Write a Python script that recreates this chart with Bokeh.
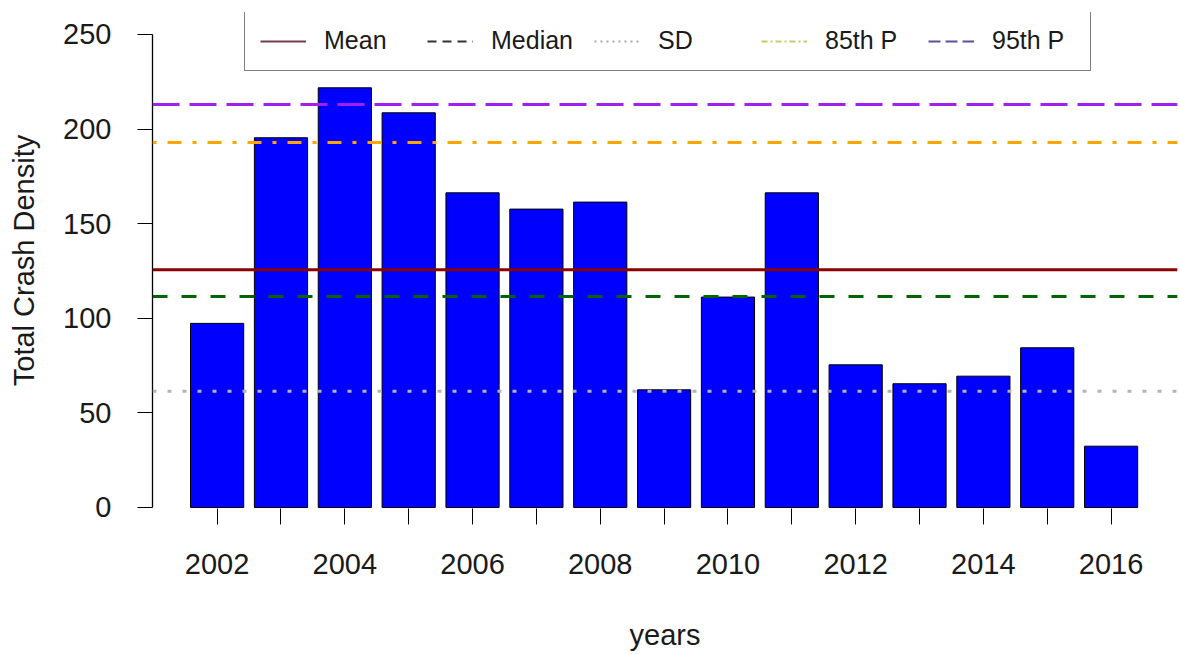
from bokeh.plotting import figure
from bokeh.models import Range1d, FixedTicker, Span, Legend, LegendItem
from bokeh.embed import file_html
from bokeh.resources import INLINE

# ---- data ----
years = [2002, 2003, 2004, 2005, 2006, 2007, 2008, 2009, 2010, 2011, 2012, 2013, 2014, 2015, 2016]
crash_density = [97.3, 195.4, 221.8, 208.6, 166.3, 157.7, 161.4, 62.2, 111.2, 166.3, 75.4, 65.4, 69.4, 84.4, 32.4]
stat_names = ["Mean", "Median", "SD", "85th P", "95th P"]
stat_values = [125.6, 111.5, 61.5, 192.9, 213.0]
y_ticks = [0, 50, 100, 150, 200, 250]

FONT = "Liberation Sans"
TXT = "#1a1a1a"
NAN = float("nan")

p = figure(width=1179, height=654, output_backend="svg", toolbar_location=None,
           x_range=Range1d(2000.988, 2017.04), y_range=Range1d(-0.53, 261.6),
           min_border_left=152, min_border_right=2, min_border_top=12, min_border_bottom=146)
p.outline_line_color = None
p.xgrid.visible = False
p.ygrid.visible = False
p.background_fill_color = "white"
p.border_fill_color = "white"

# bars
p.vbar(x=years, top=crash_density, bottom=0, width=0.833,
       fill_color="#0000FF", line_color="black", line_width=1)

# reference lines
line_styles = {
    "Mean": dict(line_color="#8B0000", line_dash="solid"),
    "Median": dict(line_color="#006400", line_dash="15 14"),
    "SD": dict(line_color="#B4B4B4", line_dash="4 11"),
    "85th P": dict(line_color="#FFA500", line_dash="4 11 14 11"),
    "95th P": dict(line_color="#A020F0", line_dash="27 10"),
}
for name, val in zip(stat_names, stat_values):
    st = line_styles[name]
    p.add_layout(Span(location=val, dimension="width", line_width=3,
                      line_color=st["line_color"], line_dash=st["line_dash"]))

# legend-only renderers (colours as in the reference legend)
legend_styles = {
    "Mean": dict(line_color="#7B3A4C", line_dash="solid"),
    "Median": dict(line_color="#333333", line_dash="9 6"),
    "SD": dict(line_color="#A8A8A8", line_dash="2 4"),
    "85th P": dict(line_color="#C8CC66", line_dash="6 3 2 3"),
    "95th P": dict(line_color="#5B4FA0", line_dash="12 5"),
}
items = []
for name in stat_names:
    st = legend_styles[name]
    r = p.line(x=[NAN, NAN], y=[NAN, NAN], line_width=2,
               line_color=st["line_color"], line_dash=st["line_dash"])
    items.append(LegendItem(label=name, renderers=[r], index=0))

legend = Legend(items=items, orientation="horizontal", location=(92, 437),
                margin=0, padding=15, spacing=20, glyph_width=46, glyph_height=20,
                label_standoff=18, label_width=83,
                label_text_font=FONT, label_text_font_size="25px", label_text_color=TXT,
                border_line_color="black", border_line_width=1.5,
                background_fill_color="white", background_fill_alpha=1.0)
p.add_layout(legend, "center")

# x axis
xa = p.xaxis[0]
xa.ticker = FixedTicker(ticks=years)
xa.major_label_overrides = {yr: (str(yr) if yr % 2 == 0 else "") for yr in years}
xa.axis_line_color = None
xa.major_tick_line_color = "black"
xa.major_tick_out = 16
xa.major_tick_in = 0
xa.minor_tick_line_color = None
xa.major_label_standoff = 29
xa.major_label_text_font = FONT
xa.major_label_text_font_size = "29px"
xa.major_label_text_color = TXT
xa.axis_label = "years"
xa.axis_label_text_font = FONT
xa.axis_label_text_font_size = "29px"
xa.axis_label_text_font_style = "normal"
xa.axis_label_text_color = TXT
xa.axis_label_standoff = 42

# y axis
ya = p.yaxis[0]
ya.ticker = FixedTicker(ticks=y_ticks)
ya.bounds = (0, 250)
ya.axis_line_color = "black"
ya.axis_line_width = 1.3
ya.major_tick_line_color = "black"
ya.major_tick_out = 15
ya.major_tick_in = 0
ya.minor_tick_line_color = None
ya.major_label_standoff = 26
ya.major_label_text_font = FONT
ya.major_label_text_font_size = "29px"
ya.major_label_text_color = TXT
ya.axis_label = "Total Crash Density"
ya.axis_label_text_font = FONT
ya.axis_label_text_font_size = "29px"
ya.axis_label_text_font_style = "normal"
ya.axis_label_text_color = TXT
ya.axis_label_standoff = 20

open("out.html", "w").write(file_html(p, INLINE))
